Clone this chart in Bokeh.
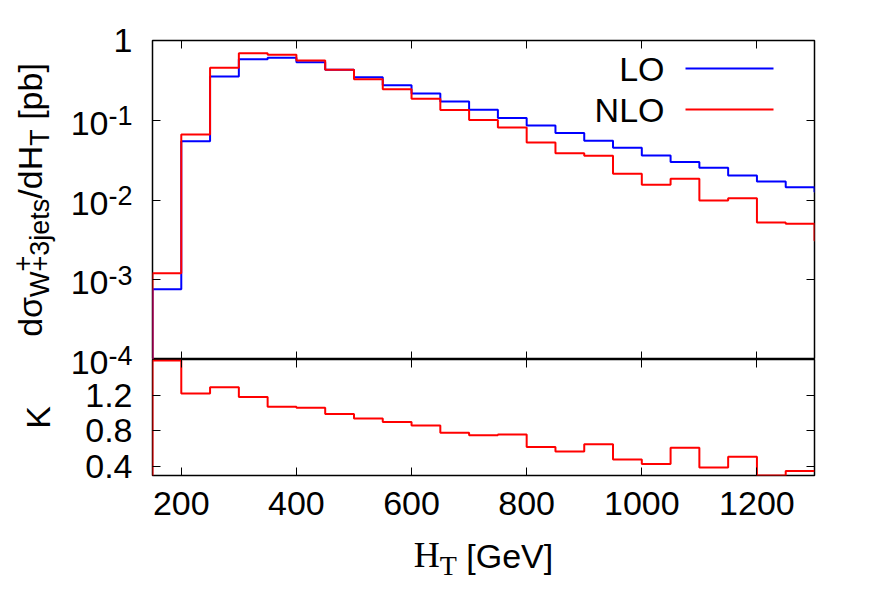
import numpy as np
from math import pi, log10
from bokeh.plotting import figure
from bokeh.layouts import column, row
from bokeh.models import LogAxis, LinearAxis, FixedTicker, Label, BoxAnnotation, Range1d
from bokeh.embed import file_html
from bokeh.resources import INLINE

# ---------------- data ----------------
bin_edges = [150, 200, 250, 300, 350, 400, 450, 500, 550, 600, 650, 700, 750,
             800, 850, 900, 950, 1000, 1050, 1100, 1150, 1200, 1250, 1300, 1350]
lo_xsec = [7.6e-4, 0.0547, 0.354, 0.583, 0.607, 0.535, 0.429, 0.347, 0.275,
           0.217, 0.172, 0.135, 0.107, 0.0861, 0.0690, 0.0553, 0.0452, 0.0362,
           0.0299, 0.0254, 0.0203, 0.0171, 0.0145, 0.0127]
nlo_xsec = [1.21e-3, 0.0664, 0.455, 0.693, 0.661, 0.561, 0.429, 0.327, 0.245,
            0.186, 0.134, 0.101, 0.0813, 0.0527, 0.0387, 0.0358, 0.0213, 0.0155,
            0.0185, 0.00989, 0.0105, 0.00524, 0.00504, 0.0031]
k_factor = [1.59, 1.22, 1.29, 1.18, 1.07, 1.06, 0.99, 0.94, 0.90, 0.86, 0.78,
            0.75, 0.76, 0.62, 0.57, 0.65, 0.48, 0.43, 0.61, 0.39, 0.51, 0.30, 0.35]
x_ticks = [200, 400, 600, 800, 1000, 1200]
y_ticks_top = [1e-4, 1e-3, 1e-2, 1e-1, 1]
y_ticks_k = [0.4, 0.8, 1.2]
x_range = (150, 1300)
y_range_top = (1e-4, 1)
y_range_k = (0.3, 1.6)

# ---------------- layout constants (pixels) ----------------
LEFT_W = 150          # width of the left label strip
FRAME_L = 152         # frame left edge
FRAME_W = 662
TOP_Y = 40            # top frame top edge
TOP_H = 319
K_H = 116
BOT_BORDER = 56
RIGHT_B = 46
TOTAL_W = LEFT_W + 2 + FRAME_W + RIGHT_B
COL_H = TOP_Y + TOP_H + K_H + BOT_BORDER
XLAB_H = 74
MID = 0.35            # em distance from baseline to text middle

FS = 34          # main font size
SS = 27          # sub/superscript font size
SANS = "Liberation Sans"
SERIF = "Liberation Serif"
W_SANS = {'d': 0.556, 'σ': 0.617, 'W': 0.944, '+': 0.584, '3': 0.556, 'j': 0.222,
          'e': 0.556, 't': 0.278, 's': 0.5, '/': 0.278, 'H': 0.722, 'T': 0.611,
          ' ': 0.278, '[': 0.278, 'p': 0.556, 'b': 0.556, ']': 0.278, 'G': 0.778,
          'V': 0.667, 'K': 0.667, '-': 0.333, '1': 0.556, '2': 0.556, '4': 0.556,
          '0': 0.556}
W_SERIF = {'H': 0.722, 'T': 0.611}


def text_w(s, size, table=W_SANS):
    return sum(table.get(c, 0.55) for c in s) * size


def step_xy(edges, vals, floor):
    xs, ys = [edges[0]], [floor]
    for i, v in enumerate(vals):
        xs += [edges[i], edges[i + 1]]
        ys += [v, v]
    return xs, ys


def add_axis(fig, cls, side, ticks, labels=False, standoff=0):
    ax = cls(ticker=FixedTicker(ticks=ticks))
    ax.major_tick_in = 8
    ax.major_tick_out = 0
    ax.minor_tick_line_color = None
    ax.axis_line_color = None
    ax.major_tick_line_color = "black"
    ax.major_tick_line_width = 1
    ax.major_label_text_font = SANS
    ax.major_label_text_font_size = f"{FS}px"
    if labels:
        ax.major_label_text_color = "black"
        ax.major_label_standoff = standoff
    else:
        ax.major_label_text_color = None
        ax.major_label_standoff = 0
    fig.add_layout(ax, side)
    return ax


def txt(fig, x, y, text, size, font=SANS, align="left", rotated=False):
    """(x, y): baseline anchor in page pixels; text drawn with middle baseline."""
    if rotated:
        x, ang = x - MID * size, pi / 2
    else:
        y, ang = y - MID * size, 0
    fig.add_layout(Label(x=x, y=y, text=text, text_font=font, text_font_size=f"{size}px",
                         text_align=align, text_baseline="middle", angle=ang,
                         text_color="black"))


def blank_fig(w, h, y_top):
    f = figure(frame_width=w, frame_height=h, x_range=Range1d(0, w),
               y_range=Range1d(y_top + h, y_top),
               x_axis_location=None, y_axis_location=None, toolbar_location=None,
               output_backend="svg", min_border_left=0, min_border_right=0,
               min_border_top=0, min_border_bottom=0, outline_line_color=None,
               background_fill_color="white", border_fill_color="white")
    f.grid.visible = False
    return f


common = dict(frame_width=FRAME_W, x_range=Range1d(*x_range),
              x_axis_location=None, y_axis_location=None,
              toolbar_location=None, output_backend="svg",
              min_border_left=2, min_border_right=RIGHT_B,
              background_fill_color="white", border_fill_color="white",
              outline_line_color="black", outline_line_width=1.5)

# ---------------- top panel ----------------
top = figure(frame_height=TOP_H, y_range=Range1d(*y_range_top), y_axis_type="log",
             min_border_top=TOP_Y, min_border_bottom=0, **common)
top.grid.visible = False
add_axis(top, LogAxis, "left", y_ticks_top)
add_axis(top, LogAxis, "right", y_ticks_top)
add_axis(top, LinearAxis, "below", x_ticks)
add_axis(top, LinearAxis, "above", x_ticks)

xs, ys = step_xy(bin_edges, lo_xsec, 1e-7)
top.line(xs, ys, line_color="#0000ff", line_width=2)
xs, ys = step_xy(bin_edges, nlo_xsec, 1e-7)
top.line(xs, ys, line_color="#ff0000", line_width=2)

# legend (gnuplot style: text, then line sample)
for i, (name, col) in enumerate([("LO", "#0000ff"), ("NLO", "#ff0000")]):
    yoff = -28 - 41 * i
    top.add_layout(Label(x=x_range[1], y=y_range_top[1], x_offset=-150, y_offset=yoff,
                         text=name, text_align="right", text_baseline="middle",
                         text_font=SANS, text_font_size=f"{FS}px", text_color="black"))
    top.add_layout(BoxAnnotation(left=533, right=621, bottom=290 - 41 * i, top=292 - 41 * i,
                                 left_units="screen", right_units="screen",
                                 bottom_units="screen", top_units="screen",
                                 fill_color=col, fill_alpha=1, line_color=None))

# ---------------- bottom (K) panel ----------------
bot = figure(frame_height=K_H, y_range=Range1d(*y_range_k),
             min_border_top=0, min_border_bottom=BOT_BORDER, **common)
bot.grid.visible = False
add_axis(bot, LinearAxis, "left", y_ticks_k)
add_axis(bot, LinearAxis, "right", y_ticks_k)
add_axis(bot, LinearAxis, "below", x_ticks, labels=True, standoff=16)
add_axis(bot, LinearAxis, "above", x_ticks)

xs, ys = step_xy(bin_edges[:len(k_factor) + 1], k_factor, 0)
bot.line(xs, ys, line_color="#ff0000", line_width=2)

# ---------------- left strip: y tick labels and y titles ----------------
lab = blank_fig(LEFT_W, COL_H, 0)
LAB_R = 132          # right edge of the tick labels
lt0, lt1 = log10(y_range_top[0]), log10(y_range_top[1])
for v in y_ticks_top:
    py = TOP_Y + TOP_H * (lt1 - log10(v)) / (lt1 - lt0)
    ex = int(round(log10(v)))
    if ex == 0:
        txt(lab, LAB_R, py + 12, "1", FS, align="right")
    else:
        sup = f"{ex}"
        txt(lab, LAB_R, py + 5, sup, SS, align="right")
        txt(lab, LAB_R - text_w(sup, SS), py + 15, "10", FS, align="right")
k_top = TOP_Y + TOP_H
for v in y_ticks_k:
    py = k_top + K_H * (y_range_k[1] - v) / (y_range_k[1] - y_range_k[0])
    txt(lab, LAB_R, py + 12, f"{v:.1f}", FS, align="right")

# rotated y title of the top panel, composed of pieces (text, size, shift, advance, gap)
base_x = 41.5
sub_dx, sup_dx = 7, -10
pieces = [("dσ", FS, 0, True, 0), ("W", SS, sub_dx, True, 0), ("+", SS, sup_dx, False, 0),
          ("+3jets", SS, sub_dx, True, 0), ("/dH", FS, 0, True, 0), ("T", SS, sub_dx, True, 0),
          ("[pb]", FS, 0, True, text_w(" ", FS))]
total = sum(text_w(t, s) + g for t, s, _, adv, g in pieces if adv)
yc = TOP_Y + TOP_H / 2
pos = -total / 2
for t, s, dx, adv, g in pieces:
    pos += g
    txt(lab, base_x + dx, yc - pos, t, s, rotated=True)
    if adv:
        pos += text_w(t, s)

# K title
txt(lab, 49, k_top + K_H / 2, "K", FS, align="center", rotated=True)

# ---------------- x title strip ----------------
xlab = blank_fig(TOTAL_W, XLAB_H, COL_H)
xpieces = [("H", 36, 0, SERIF, W_SERIF, 0), ("T", 28, 8, SERIF, W_SERIF, 0),
           ("[GeV]", FS, 0, SANS, W_SANS, text_w(" ", FS))]
xtotal = sum(text_w(t, s, tb) + g for t, s, _, _, tb, g in xpieces)
xc = FRAME_L + FRAME_W / 2
xpos = xc - xtotal / 2
for t, s, dy, fnt, tb, g in xpieces:
    xpos += g
    txt(xlab, xpos, 567 + dy, t, s, font=fnt)
    xpos += text_w(t, s, tb)

layout = column(row(lab, column(top, bot, spacing=0), spacing=0), xlab, spacing=0)
open("out.html", "w").write(file_html(layout, INLINE, title="W+3jets HT"))
